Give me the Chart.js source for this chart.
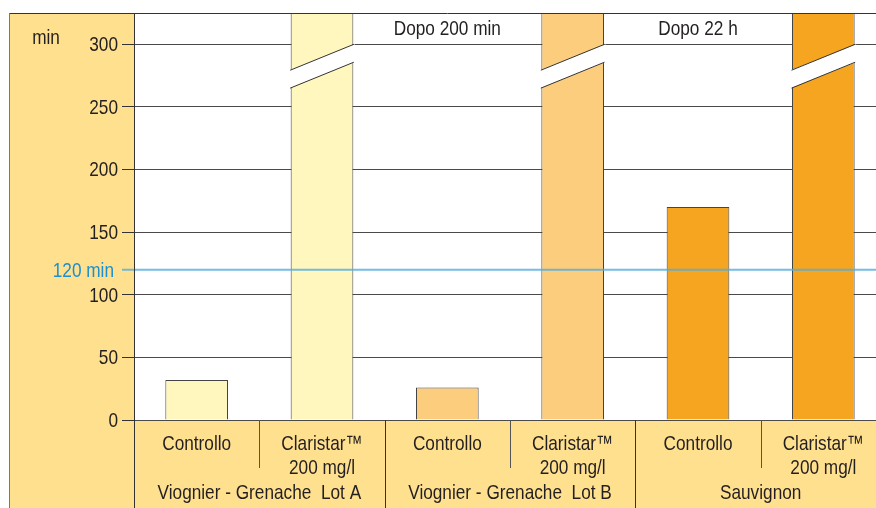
<!DOCTYPE html>
<html>
<head>
<meta charset="utf-8">
<script src="https://cdn.jsdelivr.net/npm/chart.js@4/dist/chart.umd.min.js"></script>
<style>
  html, body { margin: 0; padding: 0; background: #fff; overflow: hidden; }
  #wrap { position: absolute; left: 0; top: 0; width: 886px; height: 508px; }
</style>
</head>
<body>
<div id="wrap"><canvas id="chart" width="886" height="508"></canvas></div>
<script>
// categorie (righe di testo per ogni barra) e gruppi
const categoryLines = [
  ["Controllo"], ["Claristar™", "200 mg/l"],
  ["Controllo"], ["Claristar™", "200 mg/l"],
  ["Controllo"], ["Claristar™", "200 mg/l"]
]
const groupLabels = ["Viognier - Grenache  Lot A", "Viognier - Grenache  Lot B", "Sauvignon"]

// minuti (le barre Claristar escono dalla scala: disegnate interrotte)
const minutes = [32, 325, 26, 325, 170, 325]
const brokenBars = [false, true, false, true, false, true]
const topNotes = ["", "", "Dopo 200 min", "", "Dopo 22 h", ""]

const yTicks = [0, 50, 100, 150, 200, 250, 300]
const yMax = 325
const threshold = 120
const thresholdLabel = "120 min"
const unitLabel = "min"

const barColors = ["#fff7bd", "#fff7bd", "#fdcd7e", "#fdcd7e", "#f6a520", "#f6a520"]
const PANEL = "#fee08e"
const TEXT = "#231f20"
const FONT = "21px 'Liberation Sans', Arial, sans-serif"
const NARROW = 0.82 // testo stretto tipo Helvetica Condensed

function text(ctx, t, x, y, align) {
  ctx.save()
  ctx.translate(x, y)
  ctx.scale(NARROW, 1)
  ctx.textAlign = align
  ctx.fillText(t, 0, 0)
  ctx.restore()
}

const framePlugin = {
  id: "frame",
  beforeDraw(chart) {
    const { ctx, chartArea: a, width, height } = chart
    ctx.save()
    ctx.fillStyle = PANEL
    ctx.fillRect(9, 13, a.left - 9, height - 13)
    ctx.fillRect(a.left, a.bottom, width - a.left, height - a.bottom)
    ctx.restore()
  },
  afterDatasetsDraw(chart) {
    const { ctx, chartArea: a, width } = chart
    const y = chart.scales.y
    const meta = chart.getDatasetMeta(0)
    ctx.save()

    // interruzione delle barre fuori scala
    meta.data.forEach((bar, i) => {
      if (!brokenBars[i]) return
      const l = bar.x - bar.width / 2
      const r = bar.x + bar.width / 2
      const hiL = y.getPixelForValue(279.3), hiR = y.getPixelForValue(300)
      const loL = y.getPixelForValue(265), loR = y.getPixelForValue(285.7)
      ctx.fillStyle = "#fff"
      ctx.beginPath()
      ctx.moveTo(l - 1.5, hiL)
      ctx.lineTo(r + 1.5, hiR)
      ctx.lineTo(r + 1.5, loR)
      ctx.lineTo(l - 1.5, loL)
      ctx.closePath()
      ctx.fill()
      ctx.strokeStyle = "#333"
      ctx.lineWidth = 1
      ctx.beginPath()
      ctx.moveTo(l - 0.5, hiL); ctx.lineTo(r + 0.5, hiR)
      ctx.moveTo(l - 0.5, loL); ctx.lineTo(r + 0.5, loR)
      ctx.stroke()
    })

    // linea 120 min
    const ty = y.getPixelForValue(threshold)
    ctx.strokeStyle = "rgba(80,172,226,0.8)"
    ctx.lineWidth = 2
    ctx.beginPath()
    ctx.moveTo(a.left - 12, ty)
    ctx.lineTo(width, ty)
    ctx.stroke()
    ctx.restore()
  },
  afterDraw(chart) {
    const { ctx, chartArea: a, width, height } = chart
    const x = chart.scales.x
    const y = chart.scales.y
    ctx.save()
    ctx.font = FONT
    ctx.fillStyle = TEXT
    ctx.textBaseline = "middle"

    // etichette asse y
    yTicks.forEach(v => text(ctx, String(v), a.left - 16, y.getPixelForValue(v) + 1, "right"))

    // etichette categorie
    categoryLines.forEach((lines, i) => {
      lines.forEach((t, k) => text(ctx, t, x.getPixelForValue(i), a.bottom + 24 + k * 24, "center"))
    })
    groupLabels.forEach((t, g) => {
      const cx = (x.getPixelForValue(2 * g) + x.getPixelForValue(2 * g + 1)) / 2
      text(ctx, t, cx, a.bottom + 73, "center")
    })

    // note in alto
    topNotes.forEach((t, i) => {
      if (t) text(ctx, t, x.getPixelForValue(i), y.getPixelForValue(312.5) + 1, "center")
    })

    // unità e soglia
    ctx.textBaseline = "alphabetic"
    text(ctx, unitLabel, 46, y.getPixelForValue(300), "center")
    ctx.textBaseline = "middle"
    ctx.fillStyle = "#1b8fcf"
    text(ctx, thresholdLabel, a.left - 20, y.getPixelForValue(threshold) + 1, "right")

    // separatori sotto l'asse
    ctx.lineWidth = 1
    for (let i = 0; i < categoryLines.length - 1; i++) {
      const sx = Math.round((x.getPixelForValue(i) + x.getPixelForValue(i + 1)) / 2) + 0.5
      const isGroup = i % 2 === 1
      ctx.strokeStyle = isGroup ? "#333" : "#555"
      ctx.beginPath()
      ctx.moveTo(sx, a.bottom)
      ctx.lineTo(sx, isGroup ? height : a.bottom + 48)
      ctx.stroke()
    }

    // cornice
    ctx.strokeStyle = "#333"
    ctx.beginPath()
    ctx.moveTo(9, 13.5); ctx.lineTo(width, 13.5)
    ctx.moveTo(a.left + 0.5, 13); ctx.lineTo(a.left + 0.5, height)
    ctx.stroke()
    ctx.strokeStyle = "#777"
    ctx.beginPath()
    ctx.moveTo(9.5, 13); ctx.lineTo(9.5, height)
    ctx.stroke()
    ctx.restore()
  }
}

new Chart(document.getElementById("chart"), {
  type: "bar",
  data: {
    labels: categoryLines.map(l => l.join(" ")),
    datasets: [{
      data: minutes,
      backgroundColor: barColors,
      borderColor: "#444",
      borderWidth: 1,
      barPercentage: 0.5,
      categoryPercentage: 1
    }]
  },
  options: {
    responsive: false,
    animation: false,
    devicePixelRatio: 1,
    layout: { padding: { top: 13, left: 0, right: 0, bottom: 0 } },
    plugins: { legend: { display: false }, tooltip: { enabled: false } },
    scales: {
      x: {
        grid: { display: false },
        border: { display: false },
        ticks: { display: false },
        afterFit: s => { s.height = 88 }
      },
      y: {
        min: 0,
        max: yMax,
        afterBuildTicks: s => { s.ticks = yTicks.map(v => ({ value: v })) },
        afterFit: s => { s.width = 134 },
        border: { display: false },
        grid: { color: "#4a4a4a", lineWidth: 1, tickLength: 12, tickColor: "#333", drawTicks: true },
        ticks: { display: false }
      }
    }
  },
  plugins: [framePlugin]
})
</script>
</body>
</html>
